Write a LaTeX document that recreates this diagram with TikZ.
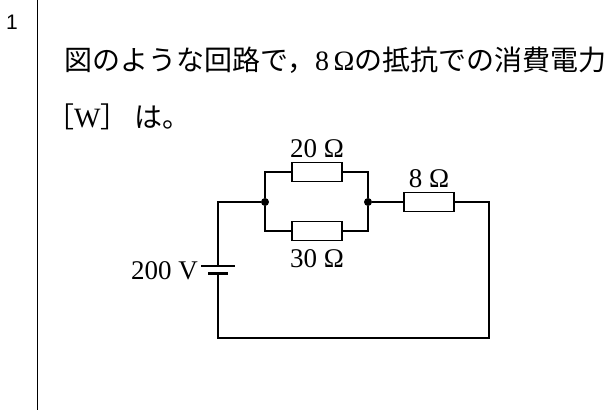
\documentclass[tikz,border=0pt]{standalone}
\usepackage{fontspec}
\setmainfont{Liberation Serif}
\setsansfont{Liberation Sans}
\newfontfamily\cjk{Noto Sans CJK JP}
\usetikzlibrary{positioning}
\tikzset{
  wire/.style={line width=1.4pt},
  resistor/.style={draw, line width=1.4pt, fill=white, minimum width=50pt, minimum height=19pt, inner sep=0pt},
  junction/.style={circle, fill, inner sep=0pt, minimum size=8pt},
  lbl/.style={font=\fontsize{27}{27}\selectfont, inner sep=0pt}
}
\begin{document}
\begin{tikzpicture}[x=1pt,y=-1pt]
\useasboundingbox (0,0) rectangle (613,413);
\draw[line width=0.8pt] (37,0) -- (37,410);
\node[font=\sffamily\fontsize{21}{21}\selectfont] (num) at (12,22) {1};
\node[anchor=west, inner sep=0pt, font=\fontsize{28}{28}\selectfont] (line1) at (64,60)
  {\cjk 図のような回路で，{\rmfamily 8\,Ω}\cjk の抵抗での消費電力};
\node[anchor=west, inner sep=0pt, font=\fontsize{28}{28}\selectfont] (line2) at (46,117)
  {\cjk ［{\rmfamily W}］ は。};
% circuit corners
\coordinate (tl) at (218,202);
\coordinate (bl) at (218,338);
\coordinate (br) at (489,338);
\coordinate (tr) at (489,202);
\coordinate (bt) at (218,266);
\coordinate (bb) at (218,273);
\node[junction] (ja) at (265,202) {};
\node[junction] (jb) at (368,202) {};
\node[resistor] (ra) at (317,172) {};
\node[resistor] (rb) at (317,231) {};
\node[resistor] (rc) at (429,202) {};
\draw[wire] (bt) -- (tl) -- (ja) -- (ja |- ra) -- (ra) -- (jb |- ra) -- (jb);
\draw[wire] (ja) -- (ja |- rb) -- (rb) -- (jb |- rb) -- (jb) -- (rc) -- (tr) -- (br) -- (bl) -- (bb);
\draw[wire] (201,266) -- (235,266);
\draw[wire, line width=3pt] (208,273) -- (228,273);
\node[lbl, above=4pt of ra] (la) {20 Ω};
\node[lbl, below=8pt of rb] (lb) {30 Ω};
\node[lbl, above=4pt of rc] (lc) {8 Ω};
\node[lbl, anchor=east] (lv) at (198,271) {200 V};
\end{tikzpicture}
\end{document}
